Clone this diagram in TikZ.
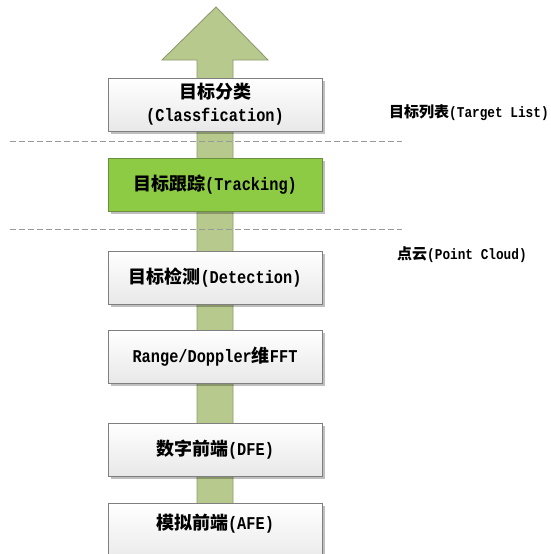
\documentclass[tikz,border=0pt]{standalone}
\usepackage{fontspec}
\setmainfont{Liberation Mono}[FakeStretch=0.85]
\newfontfamily\cjkfam{Noto Sans CJK SC}
\newcommand\zhtxt[1]{{\cjkfam\bfseries #1}}
\usetikzlibrary{shadows}
\definecolor{arrowfill}{HTML}{B8C98E}
\definecolor{arrowdraw}{HTML}{8C9A70}
\definecolor{greenfill}{HTML}{8DCB45}
\definecolor{greendraw}{HTML}{6A8F3E}
\definecolor{boxdraw}{HTML}{7F7F7F}
\tikzset{
  box/.style={draw=boxdraw, line width=0.9pt, top color=white, bottom color=black!9,
    minimum width=214pt, minimum height=53pt, inner sep=0pt,
    font=\fontsize{18}{22}\selectfont\bfseries, align=center,
    drop shadow={shadow xshift=2.5pt, shadow yshift=-2.5pt, opacity=0.25, fill=black}},
  greenbox/.style={box, top color=greenfill, bottom color=greenfill, draw=greendraw},
  boxtext/.style={font=\fontsize{18}{22}\selectfont\bfseries, inner sep=0pt},
  sidelabel/.style={font=\fontsize{15}{18}\selectfont\bfseries, inner sep=0pt, anchor=west},
  sep/.style={draw=gray!80, line width=0.8pt, dash pattern=on 6pt off 3pt},
  bigarrow/.style={fill=arrowfill, draw=arrowdraw, line width=0.9pt}
}
\begin{document}
\begin{tikzpicture}[x=1pt,y=-1pt]
\useasboundingbox (0,0) rectangle (551,554);
% big arrow
\draw[bigarrow] (216,7) -- (268,60) -- (233,60) -- (233,580) -- (197,580) -- (197,60) -- (162,60) -- cycle;
% separators
\coordinate (s1l) at (10,141); \coordinate (s1r) at (402,141);
\coordinate (s2l) at (10,229); \coordinate (s2r) at (402,229);
\draw[sep] (s1l) -- (s1r);
\draw[sep] (s2l) -- (s2r);
% boxes
\node[box] (cls) at (215,104.5) {\zhtxt{目标分类}\\[1pt](Classfication)};
\node[greenbox] (trk) at (215,184.5) {\zhtxt{目标跟踪}(Tracking)};
\node[box] (det) at (215,277.5) {\zhtxt{目标检测}(Detection)};
\node[box] (fft) at (215,356.5) {Range/Doppler\zhtxt{维}FFT};
\node[box] (dfe) at (215,449.5) {\zhtxt{数字前端}(DFE)};
\node[box, minimum height=62pt] (afe) at (215,534) {};
\node[boxtext] (afet) at (215,524) {\zhtxt{模拟前端}(AFE)};
% side labels
\node[sidelabel] (tl) at (389,113) {\zhtxt{目标列表}(Target List)};
\node[sidelabel] (pc) at (397,255) {\zhtxt{点云}(Point Cloud)};
\end{tikzpicture}
\end{document}
